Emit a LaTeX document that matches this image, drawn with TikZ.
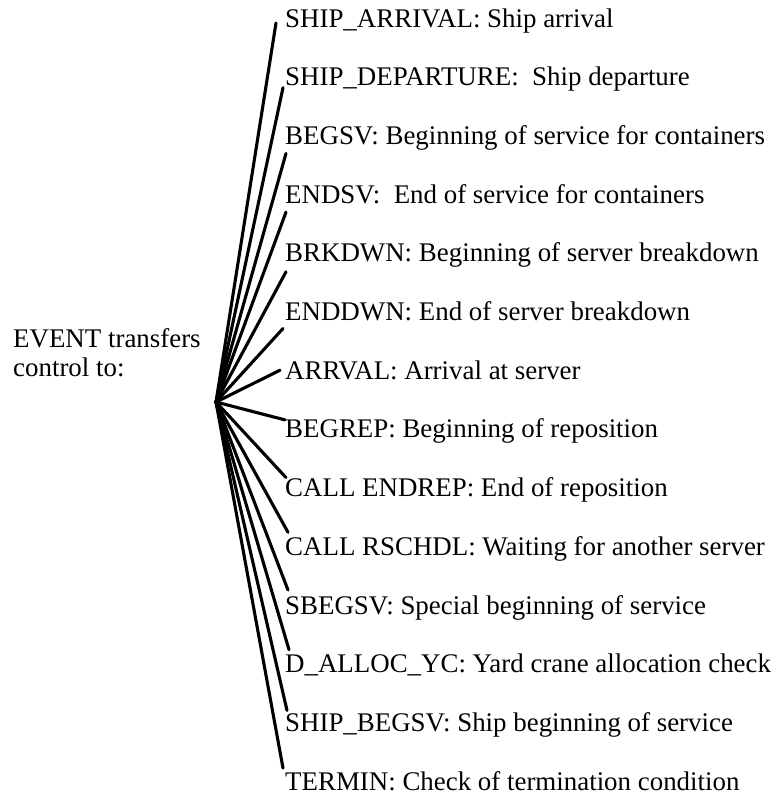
\documentclass[tikz,border=0pt]{standalone}
\usepackage{fontspec}
\setmainfont{Liberation Serif}
\tikzset{
  evlabel/.style={anchor=base west, inner sep=0pt, font=\fontsize{26.9}{28.5}\selectfont},
  spoke/.style={line width=3.1pt, line cap=round}
}

\begin{document}
\begin{tikzpicture}[x=1pt, y=-1pt]
  \useasboundingbox (0,0) rectangle (776,796);
  % draw caller text and fan hub
  \node[evlabel, anchor=north west, align=left] (caller) at (13,328.5) {EVENT transfers\\control to:};
  \coordinate (hub) at (216,402);
  % draw event routine labels
  \foreach \i/\txt in {
      1/{SHIP\_ARRIVAL: Ship arrival},
      2/{SHIP\_DEPARTURE:\ \ Ship departure},
      3/{BEGSV: Beginning of service for containers},
      4/{ENDSV:\ \ End of service for containers},
      5/{BRKDWN: Beginning of server breakdown},
      6/{ENDDWN: End of server breakdown},
      7/{ARRVAL: Arrival at server},
      8/{BEGREP: Beginning of reposition},
      9/{CALL ENDREP: End of reposition},
      10/{CALL RSCHDL: Waiting for another server},
      11/{SBEGSV: Special beginning of service},
      12/{D\_ALLOC\_YC: Yard crane allocation check},
      13/{SHIP\_BEGSV: Ship beginning of service},
      14/{TERMIN: Check of termination condition}} {
    \node[evlabel] (ev\i) at (285,{27+58.7*(\i-1)}) {\txt};
  }
  % draw black spokes from hub to labels
  \foreach \i/\dx/\dy in {1/-9/-4, 2/-2/2, 3/1/9, 4/1/9, 5/1/10, 6/-2/8, 7/-5/-9,
      8/0/-18, 9/1/-19, 10/3/-23, 11/3/-24, 12/4/-23, 13/2/-21, 14/-2/-22} {
    \draw[spoke] (hub) -- ([shift={(\dx,\dy)}]ev\i.base west);
  }
\end{tikzpicture}
\end{document}
